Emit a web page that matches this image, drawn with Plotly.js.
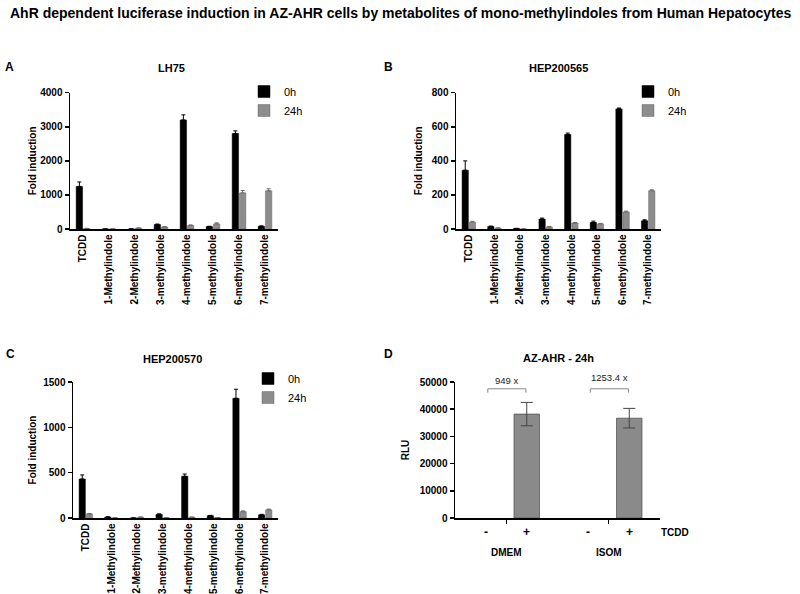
<!DOCTYPE html>
<html>
<head>
<meta charset="utf-8">
<script src="https://cdn.plot.ly/plotly-3.0.1.min.js"></script>
<style>html,body{margin:0;padding:0;background:#fff;}#chart{width:800px;height:594px;}</style>
</head>
<body>
<div id="chart"></div>
<script>
// ---- data ----
const categories = ['TCDD','1-Methylindole','2-Methylindole','3-methylindole','4-methylindole','5-methylindole','6-methylindole','7-methylindole'];
const seriesNames = ['0h','24h'];

const A_0h = [1250, 0, 0, 130, 3200, 70, 2800, 80];
const A_0h_err = [130, 0, 0, 15, 150, 10, 80, 10];
const A_24h = [15, 0, 25, 60, 100, 150, 1060, 1120];
const A_24h_err = [5, 0, 5, 10, 20, 30, 70, 60];

const B_0h = [345, 15, 3, 58, 555, 38, 705, 48];
const B_0h_err = [55, 2, 1, 6, 8, 8, 5, 6];
const B_24h = [40, 5, 0, 12, 35, 30, 100, 225];
const B_24h_err = [5, 1, 0, 2, 3, 3, 5, 5];

const C_0h = [430, 10, 0, 40, 460, 25, 1320, 35];
const C_0h_err = [45, 3, 0, 5, 25, 4, 100, 5];
const C_24h = [45, 0, 8, 2, 8, 3, 70, 90];
const C_24h_err = [5, 0, 2, 1, 2, 1, 8, 8];

const D_groups = ['DMEM', 'ISOM'];
const D_groupPos = [1.25, 3.75];
const D_treat = ['-', '+', '-', '+'];
const D_pos = [0.75, 1.75, 3.25, 4.25];
const D_vals = [0, 38200, 0, 36700];
const D_err = [0, 4300, 0, 3600];
const D_fold = ['949 x', '1253.4 x'];

const panelTitles = ['LH75', 'HEP200565', 'HEP200570', 'AZ-AHR - 24h'];
const mainTitle = 'AhR dependent luciferase induction in AZ-AHR cells by metabolites of mono-methylindoles from Human Hepatocytes';

// ---- styling ----
const FONT = 'Liberation Sans, Arial, sans-serif';
const BLACK = '#000000';
const GREY = '#8c8c8c';

function pair(xa, ya, v0, e0, v24, e24, legend, showlegend) {
  return [
    {type:'bar', x:categories, y:v0, name:seriesNames[0], xaxis:xa, yaxis:ya, legend:legend, showlegend:showlegend,
     marker:{color:BLACK, line:{color:BLACK, width:0.5}},
     error_y:{type:'data', symmetric:false, array:e0, arrayminus:e0.map(()=>0), color:BLACK, thickness:1, width:2}},
    {type:'bar', x:categories, y:v24, name:seriesNames[1], xaxis:xa, yaxis:ya, legend:legend, showlegend:showlegend,
     marker:{color:GREY, line:{color:'#6a6a6a', width:0.5}},
     error_y:{type:'data', symmetric:false, array:e24, arrayminus:e24.map(()=>0), color:'#6a6a6a', thickness:1, width:2}}
  ];
}

// panel D: zero-valued (untreated) bars draw nothing, so only non-zero points are passed on
const D_keep = D_vals.map((v,i)=>v>0 ? i : -1).filter(i=>i>=0);

const traces = [].concat(
  pair('x','y', A_0h, A_0h_err, A_24h, A_24h_err, 'legend', true),
  pair('x2','y2', B_0h, B_0h_err, B_24h, B_24h_err, 'legend2', true),
  pair('x3','y3', C_0h, C_0h_err, C_24h, C_24h_err, 'legend3', true),
  [{type:'bar', x:D_keep.map(i=>D_pos[i]), y:D_keep.map(i=>D_vals[i]), xaxis:'x4', yaxis:'y4', showlegend:false, width:0.62,
    marker:{color:'#8a8a8a', line:{color:'#555555', width:0.8}},
    error_y:{type:'data', array:D_keep.map(i=>D_err[i]), color:'#444444', thickness:1, width:6}}]
);

function catX(domain) {
  return {domain:domain, type:'category', showline:true, linecolor:BLACK, linewidth:1.5,
    ticks:'', tickangle:-90, tickfont:{family:FONT, size:10, weight:'bold', color:BLACK},
    showgrid:false, zeroline:false, fixedrange:true};
}
function valY(domain, range, dtick, anchor, standoff) {
  return {domain:domain, range:range, dtick:dtick, anchor:anchor, showline:true, linecolor:BLACK, linewidth:1.5,
    ticks:'outside', ticklen:4, tickwidth:1.5, tickcolor:BLACK, tickformat:'d',
    tickfont:{family:FONT, size:10, weight:'bold', color:BLACK},
    showgrid:false, zeroline:false,
    title:{text:'Fold induction', font:{family:FONT, size:10, weight:'bold', color:BLACK}, standoff:standoff}};
}

const yTopDom = [1-229/594, 1-92.7/594];
const yBotDom = [1-518/594, 1-382/594];

const ann = [];
function txt(x, y, text, size, bold, extra) {
  ann.push(Object.assign({x:x/800, y:1-y/594, xref:'paper', yref:'paper', yanchor:'middle', xanchor:'center',
    text:text, showarrow:false,
    font:{family:FONT, size:size, weight:bold?'bold':'normal', color:BLACK}}, extra||{}));
}
txt(400, 13, mainTitle, 14, true);
txt(9, 67, 'A', 12, true);
txt(388, 67, 'B', 12, true);
txt(10, 354, 'C', 12, true);
txt(388, 354, 'D', 12, true);
txt(171, 68, panelTitles[0], 11, true);
txt(558, 68, panelTitles[1], 11, true);
txt(172, 359, panelTitles[2], 11, true);
txt(558, 358, panelTitles[3], 11, true);
txt(675, 532, 'TCDD', 10, true);

// D tick labels and group labels
D_treat.forEach((t,i)=>{
  ann.push({x:D_pos[i], xref:'x4', y:1-532/594, yref:'paper', yanchor:'middle', text:t, showarrow:false,
    font:{family:FONT, size:12, weight:'bold', color:BLACK}});
});
D_groups.forEach((g,i)=>{
  ann.push({x:D_groupPos[i], xref:'x4', y:1-552/594, yref:'paper', yanchor:'middle', text:g, showarrow:false,
    font:{family:FONT, size:10, weight:'bold', color:BLACK}});
});
// brackets
const shapes = [];
D_groups.forEach((g,i)=>{
  const x0 = D_pos[2*i]+0.05, x1 = D_pos[2*i+1]-0.02;
  shapes.push({type:'path', xref:'x4', yref:'y4',
    path:`M${x0},46100 L${x0},47500 L${x1},47500 L${x1},46100`,
    line:{color:'#888888', width:1}});
  ann.push({x:(x0+x1)/2, xref:'x4', y:1-(i===0?380:377)/594, yref:'paper', yanchor:'middle', text:D_fold[i], showarrow:false,
    font:{family:FONT, size:9.5, color:'#222222'}});
});

function leg(x, y) {
  return {x:x/800, y:1-y/594, xanchor:'left', yanchor:'top', bgcolor:'rgba(0,0,0,0)',
    font:{family:FONT, size:11, color:BLACK}, traceorder:'normal', tracegroupgap:0, itemwidth:30};
}

const layout = {
  width:800, height:594, margin:{l:0, r:0, t:0, b:0},
  paper_bgcolor:'#ffffff', plot_bgcolor:'#ffffff',
  barmode:'group', bargap:0.44, bargroupgap:0.12,
  showlegend:true,
  xaxis: Object.assign(catX([70/800, 278/800]), {anchor:'y'}),
  yaxis: valY(yTopDom, [0,4000], 1000, 'x', 1),
  xaxis2: Object.assign(catX([456/800, 661/800]), {anchor:'y2'}),
  yaxis2: valY(yTopDom, [0,800], 200, 'x2', 7),
  xaxis3: Object.assign(catX([73/800, 278/800]), {anchor:'y3'}),
  yaxis3: valY(yBotDom, [0,1500], 500, 'x3', 5),
  xaxis4: {domain:[455/800, 660/800], anchor:'y4', range:[0,5], showline:true, linecolor:BLACK, linewidth:1.5,
    tickvals:D_groupPos, ticktext:['',''], ticks:'outside', ticklen:4, tickwidth:1, tickcolor:BLACK,
    showgrid:false, zeroline:false},
  yaxis4: Object.assign(valY(yBotDom, [0,50000], 10000, 'x4', 8),
    {title:{text:'RLU', font:{family:FONT, size:10, weight:'bold', color:BLACK}, standoff:8}}),
  legend: leg(244, 77),
  legend2: leg(628, 77),
  legend3: leg(248, 364),
  annotations: ann,
  shapes: shapes
};

Plotly.newPlot('chart', traces, layout, {displayModeBar:false, staticPlot:true});
</script>
</body>
</html>
